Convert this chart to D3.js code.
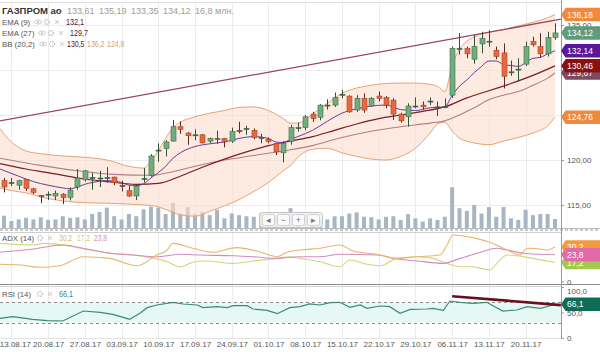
<!DOCTYPE html>
<html lang="ru">
<head>
  <meta charset="utf-8">
  <title>ГАЗПРОМ ао</title>
  <script src="https://d3js.org/d3.v7.min.js"></script>
  <style>
    body { margin: 0; background: #fff; }
    svg text { font-family: Arial, "Liberation Sans", sans-serif; }
    .grid line { stroke: #ececec; shape-rendering: crispEdges; }
    .axis text { fill: #555; font-size: 8px; }
    .axis line { stroke: #999; }
  </style>
</head>
<body>
<script>
  // ---- data (one value per daily candle) ----
  var open = [117.7,117.45,117.2,117.85,116.8,116.05,116.15,116.0,116.2,115.85,
    117.0,117.8,118.0,117.95,118.0,118.1,117.2,116.6,116.0,117.9,
    118.3,121.05,121.3,122.1,123.7,123.0,122.75,122.8,122.1,122.35,
    122.4,122.1,123.3,123.45,123.3,122.45,122.3,121.85,120.8,122.05,
    123.55,123.6,125.1,124.75,126.05,126.1,127.25,127.1,125.55,126.85,
    126.0,127.1,126.95,126.65,125.1,124.8,125.95,126.1,126.5,125.85,
    125.9,127.2,132.4,132.4,131.2,132.9,133.2,132.2,131.9,129.8,
    130.05,130.65,133.15,132.6,131.8,133.61];
  var high = [118.0,118.0,117.8,117.9,116.9,116.1,116.5,116.6,116.3,116.95,
    119.0,118.9,118.6,118.8,119.2,118.15,117.7,117.1,117.3,119.1,
    120.65,121.85,122.2,124.45,124.3,123.1,123.4,122.9,122.5,123.25,
    122.45,123.6,124.25,123.8,123.5,122.9,122.5,121.9,122.1,123.9,
    124.15,125.0,125.35,126.2,126.75,127.5,127.8,127.2,127.2,127.4,
    127.0,127.6,127.1,126.85,125.25,126.3,126.95,126.5,126.95,126.5,
    126.85,132.6,134.1,132.6,133.9,134.25,134.4,132.6,132.95,131.05,
    131.3,133.15,133.7,134.1,134.25,135.19];
  var low = [116.4,117.1,116.7,116.55,116.2,115.2,115.55,115.55,115.1,115.5,
    116.7,117.6,116.7,117.0,117.5,117.2,116.5,115.9,115.55,117.5,
    118.15,119.8,120.4,122.05,122.9,121.7,122.2,121.85,121.9,121.8,
    121.4,121.9,122.95,122.8,122.3,121.85,121.85,120.55,119.75,121.7,
    123.15,123.3,124.25,124.4,125.6,125.9,126.85,125.25,125.35,125.25,
    125.9,126.5,125.75,124.45,124.15,123.7,125.75,125.6,126.1,124.9,
    125.75,126.9,131.7,131.3,130.7,131.85,132.6,131.2,127.95,129.35,
    128.7,130.45,132.6,131.4,131.5,133.35];
  var close = [117.0,117.5,117.7,116.85,116.4,116.0,116.2,116.3,115.85,116.65,
    118.0,118.8,118.05,118.0,118.05,117.5,117.05,116.0,117.1,117.95,
    120.45,121.1,122.0,123.7,123.4,122.7,122.8,121.9,122.4,122.4,
    122.05,123.15,123.15,123.5,122.5,122.5,122.05,120.9,121.85,123.6,
    123.6,124.8,124.6,126.1,126.1,126.95,127.3,125.35,126.85,125.55,
    126.85,126.85,126.1,125.1,124.35,126.0,126.0,125.9,126.55,125.9,
    125.95,132.4,132.4,131.8,132.6,133.5,133.2,131.5,129.3,129.8,
    130.1,132.6,132.8,131.8,133.6,134.12];
  // volume, millions
  var volume = [23,13,16,19,16,20,15,16,22,19, 20,16,26,30,38,22,16,26,22,35,
    40,38,26,47,27,39,26,30,24,34, 18,27,24,22,21,27,26,24,28,37,
    18,27,21,15,16,22,22,27,29,21, 20,16,21,22,15,26,18,12,18,15,
    21,76,37,32,43,27,39,21,39,18, 15,34,24,26,26,16.8];

  var weekIdx = [1,6,11,16,21,26,31,36,41,46,51,56,61,66,71];
  var weekLabels = ["13.08.17","20.08.17","27.08.17","03.09.17","10.09.17","17.09.17",
    "24.09.17","01.10.17","08.10.17","15.10.17","22.10.17","29.10.17","06.11.17","13.11.17","20.11.17"];
  var priceTicks = [115, 120, 125, 130, 135];
  var priceLabelsShown = [115, 120, 135];   // 125 and 130 sit under value tags

  // Bollinger bands (20,2), read at these candle positions
  var bbIdx = [-0.55,1,3,5,8,11,14,17,19,20,21,22,23,24,26,28,30,32,34,36,38,39,40,42,44,46,48,50,52,54,56,58,59,60,61,62,63,64,66,68,70,72,74,75];
  var bbUp = [123.5,122.0,121.0,120.7,120.45,120.3,120.0,119.3,119.1,119.9,121.0,122.4,123.6,124.2,124.8,125.2,125.5,125.85,125.9,125.5,124.6,124.1,124.1,125.1,126.3,127.4,128.0,128.3,128.5,128.55,128.55,128.4,128.2,127.6,130.5,132.3,133.2,133.7,134.2,134.5,134.9,135.3,135.8,136.16];
  var bbLow = [116.9,116.6,116.35,115.9,115.45,115.25,115.2,115.1,115.0,114.95,114.8,114.5,114.2,113.9,113.75,114.3,114.9,115.6,116.5,117.5,118.8,119.4,120.3,121.2,121.3,120.8,120.4,120.1,120.0,120.4,121.3,123.0,124.0,124.2,123.2,122.4,122.1,121.9,121.7,122.1,122.5,123.0,123.8,124.76];
  var bbMid = [[-0.55,119.6],[3,119.0],[6,118.6],[10,118.0],[14,117.6],[18,117.3],[21,117.4],[24,118.2],[27,119.2],[30,120.1],[33,120.9],[36,121.6],[39,122.1],[42,122.6],[45,123.3],[48,124.0],[51,124.6],[54,125.0],[57,125.4],[60,125.9],[63,126.9],[66,127.7],[69,128.5],[72,129.4],[75,130.46]];
  var ema9 = [[-0.55,119.0],[2,118.2],[4,117.6],[6,117.2],[8,116.9],[9,116.8],[10,117.0],[11,117.3],[12,117.5],[14,117.7],[16,117.5],[17,117.2],[18,117.15],[19,117.35],[20,118.0],[21,118.6],[22,119.3],[23,120.2],[24,120.8],[26,121.5],[28,121.8],[30,122.0],[32,122.4],[34,122.6],[36,122.4],[37,122.0],[38,121.95],[39,122.3],[40,122.6],[42,123.3],[44,124.3],[46,125.2],[48,125.7],[50,126.0],[52,126.1],[54,125.6],[56,125.5],[58,125.8],[60,125.9],[61,127.2],[62,128.2],[63,128.9],[64,129.7],[65,130.4],[66,131.0],[67,131.0],[68,130.6],[69,130.5],[70,130.4],[71,130.8],[72,131.3],[73,131.4],[74,131.8],[75,132.14]];
  var ema27 = [[-0.55,120.2],[5,119.4],[10,118.8],[15,118.4],[20,118.3],[23,118.7],[26,119.3],[30,120.0],[34,120.5],[38,121.0],[42,121.6],[46,122.5],[50,123.2],[54,123.7],[58,124.1],[60,124.35],[62,125.0],[64,125.8],[66,126.7],[68,127.2],[70,127.6],[72,128.3],[74,129.1],[75,129.67]];
  var trendPrice = [[-0.55,124.35],[75.8,135.65]];

  // ADX (14): three lines
  var adxA = [[-0.55,15.7],[2.2,15.1],[4.9,13.2],[7.6,14.5],[10.8,22.1],[14.4,20.7],[18.1,14.5],[20.8,23.5],[22.2,27.7],[23,33.3],[25.7,29.2],[28.4,25.8],[31.7,29.7],[34.4,26.9],[37.2,22.1],[38.5,25.8],[40.3,27.7],[43,29.2],[45.7,31.9],[47.5,26.9],[50.8,24.1],[53.5,20.7],[56.2,22.1],[59.3,23.5],[60.3,31.9],[61.1,40.3],[63.8,38.1],[66.1,34.2],[68.5,27.7],[70.2,23.5],[71.2,29.2],[73,28.6],[73.9,27.7],[75,30.2]];
  var adxB = [[-0.55,33.3],[4,31.9],[5.3,33.3],[8.6,31.4],[11.7,27.7],[14.4,25.0],[17.6,23.5],[19.9,21.3],[22.2,17.9],[24,13.7],[25.7,17.4],[27.6,18.5],[31.2,16.5],[33.9,18.5],[37.2,20.7],[38.9,22.1],[40.3,20.7],[43,17.9],[45.7,13.7],[47.1,19.3],[49.4,15.7],[51.2,14.5],[53.5,20.7],[56.2,22.1],[58.4,20.7],[60.3,16.5],[62.1,13.7],[63.8,13.7],[66.1,10.9],[67.5,19.3],[68.5,23.5],[72,20.7],[75,17.2]];
  var adxC = [[-0.55,25.8],[4,28.6],[8,31.9],[11.3,28.6],[14.4,25.0],[17.6,23.5],[20.8,22.1],[24,24.1],[26.7,23.5],[31.2,22.9],[33.9,22.1],[37.2,20.7],[40.3,22.1],[43,22.1],[45.7,24.1],[50.8,23.5],[53.5,20.2],[56.2,18.5],[59.8,16.5],[62.1,20.7],[64.4,25.0],[67.1,29.2],[68.5,27.7],[70.7,25.0],[73,24.1],[75,23.8]];

  // RSI (14)
  var rsi = [[-0.55,38.6],[1.2,41.8],[3.9,36.6],[5.9,34.0],[8,33.3],[10.8,52.9],[13.1,50.3],[14.8,46.4],[16.7,38.6],[17.1,36.6],[18.5,48.4],[19.5,59.5],[20.8,64.7],[23,70.0],[24.4,66.7],[26.3,64.7],[27.1,59.5],[29,61.4],[30.4,59.5],[31.2,63.4],[33.1,63.4],[33.9,56.9],[35.8,54.2],[37.2,47.7],[38.9,59.5],[40.3,61.4],[41.6,66.7],[43,64.7],[44.4,69.2],[45.7,70.0],[47.1,60.1],[48.5,64.7],[49.4,58.2],[51.2,62.7],[52.5,61.4],[53.9,48.4],[55.3,56.2],[57.6,56.9],[58.4,58.2],[59.8,54.2],[60.7,72.5],[62.1,70.0],[63.8,68.0],[65.7,70.0],[67.9,52.9],[69.8,54.9],[71.2,61.4],[73,58.2],[74.7,64.7],[75,66.1]];
  var trendRsi = [[61,82],[75.8,64.5]];

  var fmt2 = function(v) { return d3.format('.2f')(v).replace('.', ','); };
  var fmt1 = function(v) { return d3.format('.1f')(v).replace('.', ','); };

  var W = 600, H = 352, axisX = 561;
  var x = d3.scaleLinear().domain([0, 75]).range([4, 555]);
  var y = d3.scaleLinear().domain([115, 135]).range([205, 25]);
  var yVol = d3.scaleLinear().domain([0, 100]).range([228, 174.4]);
  var yAdx = d3.scaleLinear().domain([0, 40]).range([283, 235.4]);
  var yRsi = d3.scaleLinear().domain([0, 100]).range([338, 287]);

  var svg = d3.select('body').append('svg')
      .attr('width', W).attr('height', H).style('display', 'block');
  var defs = svg.append('defs');
  defs.append('clipPath').attr('id', 'cMain').append('rect')
    .attr('x', 0).attr('y', 3).attr('width', axisX).attr('height', 225);
  defs.append('clipPath').attr('id', 'cAdx').append('rect')
    .attr('x', 0).attr('y', 232).attr('width', axisX).attr('height', 52);
  defs.append('clipPath').attr('id', 'cRsi').append('rect')
    .attr('x', 0).attr('y', 287).attr('width', axisX).attr('height', 51);

  // grid
  var grid = svg.append('g').attr('class', 'grid');
  grid.selectAll('.gx').data(weekIdx).enter().append('line')
    .attr('x1', function(d) { return Math.round(x(d)) + 0.5; })
    .attr('x2', function(d) { return Math.round(x(d)) + 0.5; })
    .attr('y1', 3).attr('y2', 338);
  grid.selectAll('.gy').data(priceTicks).enter().append('line')
    .attr('x1', 0).attr('x2', axisX)
    .attr('y1', function(d) { return Math.round(y(d)) + 0.5; })
    .attr('y2', function(d) { return Math.round(y(d)) + 0.5; });

  // ---- main panel ----
  var main = svg.append('g').attr('clip-path', 'url(#cMain)');

  main.selectAll('.vol').data(volume).enter().append('rect')
    .attr('x', function(d, i) { return x(i) - 2; })
    .attr('width', 4)
    .attr('y', function(d) { return yVol(d); })
    .attr('height', function(d) { return yVol(0) - yVol(d); })
    .attr('fill', '#a8b5c2');

  var bbRows = bbIdx.map(function(d, k) { return { i: d, up: bbUp[k], lo: bbLow[k] }; });
  main.append('path').datum(bbRows)
    .attr('d', d3.area().curve(d3.curveMonotoneX)
      .x(function(d) { return x(d.i); })
      .y0(function(d) { return y(d.lo); })
      .y1(function(d) { return y(d.up); }))
    .attr('fill', '#fbdccb').attr('fill-opacity', 0.6);

  var lineP = d3.line().curve(d3.curveMonotoneX)
    .x(function(d) { return x(d[0]); })
    .y(function(d) { return y(d[1]); });
  main.append('path').datum(bbRows.map(function(d) { return [d.i, d.up]; }))
    .attr('d', lineP).attr('fill', 'none').attr('stroke', '#e6a472').attr('stroke-width', 1);
  main.append('path').datum(bbRows.map(function(d) { return [d.i, d.lo]; }))
    .attr('d', lineP).attr('fill', 'none').attr('stroke', '#e6a472').attr('stroke-width', 1);
  main.append('path').datum(ema27)
    .attr('d', lineP).attr('fill', 'none').attr('stroke', '#b17e86').attr('stroke-width', 1.1);
  main.append('path').datum(bbMid)
    .attr('d', lineP).attr('fill', 'none').attr('stroke', '#7d1c24').attr('stroke-width', 1.2);
  main.append('path').datum(ema9)
    .attr('d', lineP).attr('fill', 'none').attr('stroke', '#6b3a99').attr('stroke-width', 1);
  main.append('path').datum(trendPrice)
    .attr('d', d3.line().x(function(d) { return x(d[0]); }).y(function(d) { return y(d[1]); }))
    .attr('fill', 'none').attr('stroke', '#9c4361').attr('stroke-width', 1.3);

  // candles
  var candles = main.selectAll('.candle').data(close).enter().append('g');
  candles.append('line')
    .attr('x1', function(d, i) { return Math.round(x(i)) + 0.5; })
    .attr('x2', function(d, i) { return Math.round(x(i)) + 0.5; })
    .attr('y1', function(d, i) { return y(high[i]); })
    .attr('y2', function(d, i) { return y(low[i]); })
    .attr('stroke', function(d, i) { return close[i] >= open[i] ? '#2f4f38' : '#5a2a20'; })
    .attr('stroke-width', 1);
  candles.append('rect')
    .attr('x', function(d, i) { return Math.round(x(i)) - 2; })
    .attr('width', 5)
    .attr('y', function(d, i) { return y(Math.max(open[i], close[i])); })
    .attr('height', function(d, i) { return Math.max(1, Math.abs(y(open[i]) - y(close[i]))); })
    .attr('fill', function(d, i) {
      if (Math.abs(y(open[i]) - y(close[i])) < 1.5) return '#2f4a36';
      return close[i] >= open[i] ? '#71ad7f' : '#e5683f';
    })
    .attr('stroke', function(d, i) { return close[i] >= open[i] ? '#3e6c4c' : '#a4452b'; })
    .attr('stroke-width', 0.6);

  // navigation widget
  var nav = svg.append('g');
  nav.append('rect').attr('x', 259.5).attr('y', 212.5).attr('width', 63).attr('height', 15).attr('rx', 3)
    .attr('fill', '#f3f3f3').attr('fill-opacity', 0.85).attr('stroke', '#c4c4c4');
  ['\u25C2', '\u2212', '+', '\u25B8'].forEach(function(s, k) {
    nav.append('rect').attr('x', 262.5 + k * 15).attr('y', 214.5).attr('width', 12).attr('height', 11).attr('rx', 2)
      .attr('fill', '#fafafa').attr('stroke', '#d0d0d0');
    nav.append('text').attr('x', 268.5 + k * 15).attr('y', 223).attr('text-anchor', 'middle')
      .attr('font-size', 9).attr('fill', '#777').text(s);
  });

  // ---- panel borders ----
  var frame = svg.append('g');
  frame.append('line').attr('x1', 0).attr('x2', axisX).attr('y1', 2.5).attr('y2', 2.5).attr('stroke', '#ddd');
  frame.append('line').attr('x1', 0).attr('x2', W).attr('y1', 228.5).attr('y2', 228.5).attr('stroke', '#bbb');
  frame.append('line').attr('x1', 0).attr('x2', W).attr('y1', 230).attr('y2', 230)
    .attr('stroke', '#999').attr('stroke-dasharray', '3,2');
  frame.append('line').attr('x1', 0).attr('x2', axisX).attr('y1', 232.5).attr('y2', 232.5).attr('stroke', '#cfcfcf');
  frame.append('line').attr('x1', 0).attr('x2', W).attr('y1', 284.5).attr('y2', 284.5).attr('stroke', '#8a8a8a');
  frame.append('line').attr('x1', 0).attr('x2', axisX).attr('y1', 286.5).attr('y2', 286.5).attr('stroke', '#cfcfcf');
  frame.append('line').attr('x1', 0).attr('x2', axisX).attr('y1', 338.5).attr('y2', 338.5).attr('stroke', '#e2e2e2');
  frame.append('line').attr('x1', axisX + 0.5).attr('x2', axisX + 0.5).attr('y1', 0).attr('y2', 339).attr('stroke', '#9a9a9a');

  // ---- ADX panel ----
  var adx = svg.append('g').attr('clip-path', 'url(#cAdx)');
  var lineA = d3.line().curve(d3.curveMonotoneX)
    .x(function(d) { return x(d[0]); })
    .y(function(d) { return yAdx(d[1]); });
  adx.append('path').datum(adxB).attr('d', lineA).attr('fill', 'none').attr('stroke', '#d2d67e').attr('stroke-width', 1.1);
  adx.append('path').datum(adxC).attr('d', lineA).attr('fill', 'none').attr('stroke', '#d58bbe').attr('stroke-width', 1.1);
  adx.append('path').datum(adxA).attr('d', lineA).attr('fill', 'none').attr('stroke', '#e8b56c').attr('stroke-width', 1.1);

  // ---- RSI panel ----
  var rs = svg.append('g').attr('clip-path', 'url(#cRsi)');
  rs.append('rect').attr('x', 0).attr('width', axisX)
    .attr('y', yRsi(70)).attr('height', yRsi(30) - yRsi(70)).attr('fill', '#e6f8f4');
  [70, 30].forEach(function(v) {
    rs.append('line').attr('x1', 0).attr('x2', axisX)
      .attr('y1', Math.round(yRsi(v)) + 0.5).attr('y2', Math.round(yRsi(v)) + 0.5)
      .attr('stroke', '#8a8a8a').attr('stroke-dasharray', '3,3');
  });
  rs.append('path').datum(rsi)
    .attr('d', d3.line().x(function(d) { return x(d[0]); }).y(function(d) { return yRsi(d[1]); }))
    .attr('fill', 'none').attr('stroke', '#3d8a72').attr('stroke-width', 1.2);
  rs.append('path').datum(trendRsi)
    .attr('d', d3.line().x(function(d) { return x(d[0]); }).y(function(d) { return yRsi(d[1]); }))
    .attr('fill', 'none').attr('stroke', '#6a0d1e').attr('stroke-width', 2.6);

  // ---- axes ----
  var ax = svg.append('g').attr('class', 'axis').attr('transform', 'translate(' + axisX + ',0)')
    .call(d3.axisRight(y).tickValues(priceTicks).tickSize(3).tickPadding(3)
      .tickFormat(function(d) { return priceLabelsShown.indexOf(d) >= 0 ? fmt2(d) : ''; }));
  ax.select('.domain').remove();
  var axA = svg.append('g').attr('class', 'axis').attr('transform', 'translate(' + axisX + ',-1.5)')
    .call(d3.axisRight(yAdx).tickValues([0]).tickSize(3).tickPadding(3).tickFormat(function() { return '0'; }));
  axA.select('.domain').remove();
  var axR = svg.append('g').attr('class', 'axis').attr('transform', 'translate(' + axisX + ',0)')
    .call(d3.axisRight(yRsi).tickValues([0, 50, 100]).tickSize(3).tickPadding(3)
      .tickFormat(function(d) { return d === 0 ? '0' : fmt1(d); }));
  axR.select('.domain').remove();
  axR.selectAll('.tick text').attr('dy', function(d) { return d === 100 ? '0.75em' : '0.32em'; });
  var axX = svg.append('g').attr('class', 'axis').attr('transform', 'translate(0,338)')
    .call(d3.axisBottom(x).tickValues(weekIdx).tickSize(0).tickPadding(3)
      .tickFormat(function(d, i) { return weekLabels[i]; }));
  axX.select('.domain').remove();
  axX.selectAll('text').attr('fill', '#444').attr('font-size', 7.6)
    .attr('x', function(d, i) { return i === 0 ? 3.5 : 0; });

  // ---- value tags on the right ----
  var tags = svg.append('g');
  function tag(yy, fill, label) {
    var h = 12, x0 = axisX + 1;
    tags.append('path')
      .attr('d', 'M' + x0 + ',' + yy + 'L' + (x0 + 4) + ',' + (yy - h / 2) + 'L' + (W + 2) + ',' + (yy - h / 2) +
        'L' + (W + 2) + ',' + (yy + h / 2) + 'L' + (x0 + 4) + ',' + (yy + h / 2) + 'Z')
      .attr('fill', fill).attr('stroke', fill).attr('stroke-linejoin', 'round').attr('stroke-width', 1.5);
    tags.append('text').attr('x', x0 + 5).attr('y', yy).attr('dy', '0.35em')
      .attr('font-size', 8.5).attr('fill', '#fff').text(label);
  }
  tag(y(136.16), '#f0893c', fmt2(136.16));
  tag(y(134.12), '#5f9b7c', fmt2(134.12));
  tag(y(132.14), '#5a1898', fmt2(132.14));
  tag(y(129.67), '#7b4a5c', fmt2(129.67));
  tag(y(130.46), '#8a0f12', fmt2(130.46));
  tag(y(124.76), '#f0893c', fmt2(124.76));
  tag(yAdx(30.2), '#f29a3d', fmt1(30.2));
  tag(yAdx(17.2), '#a3c84e', fmt1(17.2));
  tag(yAdx(23.8), '#e26aa9', fmt1(23.8));
  tag(yRsi(66.1), '#0f6d57', fmt1(66.1));

  // ---- legends ----
  var leg = svg.append('g');
  function txt(xx, yy, s, size, color, weight, len) {
    var t = leg.append('text').attr('x', xx).attr('y', yy).attr('font-size', size)
      .attr('fill', color).attr('font-weight', weight || 'normal').text(s);
    if (len) t.attr('textLength', len).attr('lengthAdjust', 'spacingAndGlyphs');
  }
  function icons(xx, yy, eye) {
    var c = '#c6c6c6';
    if (eye) {
      leg.append('ellipse').attr('cx', xx).attr('cy', yy - 3).attr('rx', 3.4).attr('ry', 2)
        .attr('fill', 'none').attr('stroke', c).attr('stroke-width', 0.9);
      leg.append('circle').attr('cx', xx).attr('cy', yy - 3).attr('r', 1.1).attr('fill', c);
      xx += 9;
    }
    leg.append('circle').attr('cx', xx).attr('cy', yy - 3).attr('r', 2.4)
      .attr('fill', 'none').attr('stroke', c).attr('stroke-width', 1.6).attr('stroke-dasharray', '1.2,0.9');
    leg.append('text').attr('x', xx + 10).attr('y', yy).attr('font-size', 9)
      .attr('text-anchor', 'middle').attr('fill', c).text('\u00D7');
  }
  txt(2, 14, 'ГАЗПРОМ ао', 9.5, '#333', 'bold');
  [['133,61', 67], ['135,19', 99], ['133,35', 131], ['134,12', 163], ['16,8 млн.', 195]].forEach(function(d) {
    txt(d[1], 14, d[0], 9, '#9d9d9d');
  });
  txt(2, 25, 'EMA (9)', 7.8, '#555'); icons(38, 25, true); txt(66, 25, '132,1', 9, '#3a1a4c', null, 18);
  txt(2, 36, 'EMA (27)', 7.8, '#555'); icons(42, 36, true); txt(70, 36, '129,7', 9, '#56242f', null, 18);
  txt(2, 47, 'BB (20,2)', 7.8, '#555'); icons(43, 47, true);
  txt(67, 47, '130,5', 9, '#6a1414', null, 17.5);
  txt(87, 47, '136,2', 9, '#d8a46a', null, 17.5);
  txt(107, 47, '124,8', 9, '#d8a46a', null, 17.5);
  txt(2, 241, 'ADX (14)', 7.8, '#555'); icons(40, 241, false);
  txt(59, 241, '30,2', 9, '#e2b56e', null, 13);
  txt(77, 241, '17,2', 9, '#cfd07e', null, 13);
  txt(94, 241, '23,8', 9, '#cf92c2', null, 13);
  txt(2, 297, 'RSI (14)', 7.8, '#555'); icons(40, 297, false);
  txt(59, 297, '66,1', 9, '#3d8a72', null, 14);
</script>
</body>
</html>
